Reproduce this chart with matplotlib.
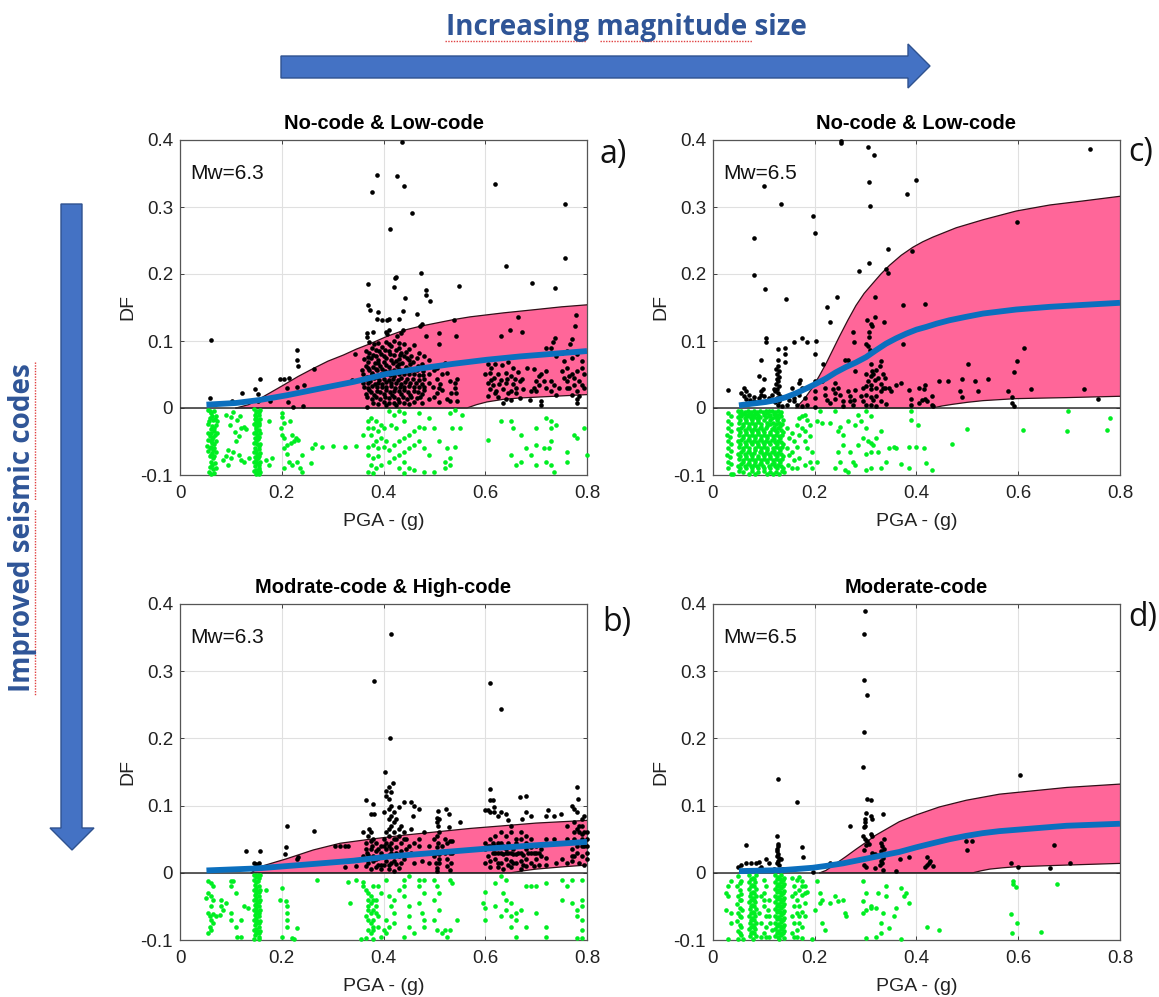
#!/usr/bin/env python3
"""Damage factor vs PGA, four panels, with magnitude / seismic code arrows."""
import numpy as np
import matplotlib
matplotlib.use("Agg")
import matplotlib.pyplot as plt
from matplotlib.patches import Polygon

plt.rcParams["font.family"] = ["Liberation Sans", "DejaVu Sans"]

X_TICKS = [0, 0.2, 0.4, 0.6, 0.8]
Y_TICKS = [-0.1, 0, 0.1, 0.2, 0.3, 0.4]
X_TICK_LABELS = ["0", "0.2", "0.4", "0.6", "0.8"]
Y_TICK_LABELS = ["-0.1", "0", "0.1", "0.2", "0.3", "0.4"]

# ── Fitted curves (x, y) ──────────────────────────────────────────────────────
a_upper = [[.11,0],[.135,.005],[.157,.014],[.18,.024],[.203,.034],[.232,.047],[.262,.059],[.291,.07],[.321,.079],[.347,.088],[.374,.096],[.407,.107],[.44,.116],[.472,.122],[.505,.127],[.538,.132],[.57,.136],[.636,.142],[.70,.147],[.75,.151],[.8,.154]]
a_lower = [[.11,0],[.564,0],[.583,.005],[.603,.009],[.636,.013],[.669,.015],[.735,.0175],[.8,.02]]
a_median = [[.052,.005],[.11,.0075],[.157,.012],[.21,.019],[.275,.029],[.341,.039],[.374,.045],[.407,.051],[.44,.055],[.472,.059],[.538,.066],[.603,.072],[.669,.077],[.735,.081],[.8,.085]]

b_upper = [[.14,0],[.157,.009],[.21,.021],[.262,.034],[.315,.044],[.374,.05],[.44,.056],[.505,.061],[.57,.066],[.636,.07],[.70,.074],[.8,.078]]
b_lower = [[.14,0],[.65,0],[.675,.003],[.70,.0055],[.754,.009],[.8,.0115]]
b_median = [[.052,.0035],[.151,.0065],[.243,.012],[.341,.018],[.407,.024],[.505,.03],[.603,.036],[.70,.041],[.8,.046]]

c_upper = [[.163,0],[.18,.014],[.196,.031],[.209,.048],[.222,.066],[.235,.086],[.248,.106],[.265,.131],[.281,.153],[.297,.171],[.314,.186],[.33,.2],[.347,.213],[.37,.228],[.393,.240],[.412,.248],[.432,.255],[.478,.269],[.531,.281],[.596,.294],[.662,.303],[.727,.309],[.8,.316]]
c_lower = [[.163,0],[.432,0],[.45,.003],[.471,.0055],[.5,.0085],[.531,.011],[.596,.014],[.695,.0155],[.8,.0175]]
c_median = [[.051,.004],[.104,.009],[.125,.012],[.143,.016],[.163,.022],[.183,.029],[.202,.036],[.222,.044],[.241,.053],[.261,.061],[.281,.068],[.301,.076],[.32,.086],[.34,.096],[.36,.104],[.38,.111],[.4,.117],[.419,.121],[.44,.126],[.465,.131],[.497,.136],[.531,.141],[.596,.147],[.662,.151],[.73,.154],[.8,.157]]

d_upper = [[.21,0],[.222,.0035],[.242,.014],[.261,.024],[.281,.035],[.3,.045],[.32,.056],[.343,.066],[.366,.076],[.399,.086],[.445,.098],[.498,.108],[.563,.117],[.629,.122],[.695,.127],[.8,.132]]
d_lower = [[.21,0],[.511,0],[.527,.003],[.544,.0055],[.57,.0075],[.596,.009],[.695,.0115],[.8,.014]]
d_median = [[.051,.0025],[.137,.004],[.196,.0075],[.225,.0105],[.255,.014],[.278,.0175],[.301,.021],[.333,.026],[.366,.031],[.4,.038],[.432,.044],[.465,.05],[.498,.055],[.53,.059],[.563,.062],[.629,.066],[.695,.07],[.8,.073]]

a_black = [[.06,.101],[.437,.397],[.388,.348],[.427,.347],[.44,.331],[.378,.322],[.62,.335],[.757,.305],[.456,.291],[.413,.267],[.757,.224],[.641,.212],[.473,.201],[.425,.195],[.422,.194],[.37,.185],[.42,.18],[.549,.182],[.484,.176],[.484,.168],[.492,.159],[.443,.164],[.691,.187],[.738,.179],
[.37,.153],[.374,.146],[.39,.143],[.387,.133],[.397,.131],[.41,.133],[.407,.131],[.431,.133],[.439,.145],[.465,.141],[.475,.126],[.472,.123],[.539,.131],[.367,.112],[.367,.106],[.38,.114],[.41,.116],[.407,.111],[.404,.113],[.439,.116],[.435,.112],[.426,.108],[.664,.136],[.648,.117],[.63,.107],[.673,.113],[.779,.139],[.777,.123],[.738,.105],[.734,.098],[.77,.103],[.767,.096],[.51,.112],[.543,.108],[.483,.107],[.509,.095],
[.23,.087],[.23,.071],[.231,.063],[.264,.058],[.197,.043],[.205,.043],[.215,.045],[.157,.044],[.122,.023],[.148,.028],[.154,.021],[.059,.015],[.243,.035],[.23,.031],[.211,.03],[.213,.009],[.222,.002],[.241,.003],[.177,.01],[.154,.01],[.102,.011],[.344,.081],[.338,.042],
[.372,.098],[.39,.097],[.405,.098],[.42,.1],[.44,.096],[.46,.094],[.378,.09],[.398,.091],[.415,.092],[.43,.09],[.45,.088],[.366,.085],[.385,.086],[.41,.085],[.425,.086],[.445,.083],[.47,.082],[.38,.079],[.395,.08],[.42,.079],[.44,.078],[.455,.077],[.48,.078],[.362,.073],[.375,.074],[.39,.072],[.405,.074],[.43,.073],[.45,.072],[.465,.074],[.49,.072],[.37,.068],[.383,.067],[.4,.068],[.418,.067],[.437,.067],[.458,.068],[.475,.066],[.365,.062],[.38,.061],[.393,.062],[.41,.061],[.427,.062],[.445,.061],[.468,.062],[.486,.061],[.52,.067],[.358,.057],[.372,.056],[.388,.056],[.403,.055],[.42,.056],[.44,.055],[.455,.056],[.478,.055],[.5,.056],[.36,.05],[.377,.05],[.395,.05],[.412,.049],[.43,.05],[.45,.05],[.47,.049],[.49,.05],[.525,.052],[.545,.044],[.365,.044],[.382,.045],[.4,.044],[.418,.044],[.435,.045],[.458,.044],[.48,.044],[.505,.044],[.37,.038],[.39,.038],[.405,.039],[.425,.038],[.443,.039],[.463,.037],[.49,.038],[.512,.036],[.54,.037],[.362,.032],[.378,.033],[.397,.032],[.415,.033],[.432,.032],[.45,.033],[.47,.032],[.497,.031],[.372,.027],[.387,.026],[.405,.027],[.42,.026],[.44,.027],[.46,.026],[.48,.027],[.515,.027],[.54,.03],[.365,.021],[.382,.02],[.4,.021],[.417,.02],[.435,.021],[.452,.02],[.475,.021],[.505,.022],[.378,.014],[.393,.013],[.41,.015],[.428,.014],[.447,.013],[.465,.015],[.49,.014],[.525,.013],[.542,.022],[.38,.008],[.4,.009],[.42,.008],[.44,.008],[.46,.009],[.51,.009],[.53,.01],[.545,.01],[.368,.002],[.405,.005],[.425,.004],
[.606,.066],[.612,.06],[.62,.065],[.632,.064],[.645,.068],[.655,.06],[.6,.05],[.61,.052],[.625,.05],[.64,.052],[.65,.048],[.665,.053],[.672,.044],[.682,.06],[.605,.038],[.615,.034],[.628,.036],[.64,.037],[.655,.036],[.668,.04],[.61,.028],[.622,.026],[.635,.028],[.65,.025],[.66,.03],[.675,.028],[.605,.018],[.625,.016],[.64,.014],[.65,.012],[.668,.015],[.688,.012],[.635,.008],[.71,.011],[.71,.004],[.695,.058],[.71,.05],[.72,.055],[.715,.04],[.705,.035],[.73,.04],[.72,.03],[.7,.025],[.745,.03],[.74,.02],[.735,.035],[.75,.055],[.755,.07],[.76,.06],[.77,.05],[.775,.045],[.78,.055],[.79,.06],[.785,.04],[.79,.035],[.795,.05],[.76,.04],[.765,.03],[.77,.02],[.78,.025],[.785,.018],[.78,.008],[.78,.014],[.74,.078],[.75,.082],[.72,.09],[.73,.09],[.76,.085],[.78,.08],[.77,.075]]

a_black_dense = [[.381,.095],[.41,.096],[.43,.097],[.372,.082],[.392,.085],[.402,.086],[.435,.082],[.412,.08],[.432,.079],[.37,.076],[.386,.078],[.4,.077],[.447,.075],[.415,.072],[.425,.07],[.37,.06],[.39,.067],[.405,.064],[.43,.066],[.452,.065],[.378,.052],[.385,.058],[.398,.058],[.413,.055],[.43,.058],[.448,.058],[.465,.056],[.368,.047],[.388,.047],[.405,.05],[.42,.048],[.44,.05],[.46,.05],[.478,.049],[.374,.04],[.392,.042],[.41,.042],[.428,.042],[.447,.044],[.47,.042],[.36,.038],[.383,.036],[.398,.036],[.415,.037],[.435,.036],[.452,.038],[.475,.036],[.37,.03],[.387,.031],[.405,.032],[.422,.03],[.44,.031],[.46,.031],[.48,.032],[.375,.024],[.393,.024],[.412,.024],[.43,.025],[.448,.024],[.468,.024],[.367,.016],[.386,.017],[.403,.017],[.42,.016],[.438,.017],[.455,.016],[.472,.016],[.39,.006],[.41,.008],[.43,.009],[.45,.006],[.475,.008],[.5,.016],[.51,.03],[.505,.06],[.515,.05],[.53,.04],[.533,.022],[.618,.045],[.63,.042],[.642,.044],[.658,.043],[.612,.042],[.62,.022],[.645,.022],[.66,.022],[.69,.025],[.695,.03],[.7,.04],[.705,.048],[.73,.026],[.755,.045],[.765,.048],[.775,.035],[.795,.03],[.79,.07],[.76,.03]]

a_green = [[.055,-.003],[.06,-.008],[.066,-.005],[.07,-.012],[.058,-.015],[.064,-.018],[.072,-.02],[.056,-.024],[.063,-.027],[.07,-.026],[.06,-.032],[.067,-.034],[.055,-.037],[.072,-.038],[.059,-.042],[.065,-.044],[.056,-.048],[.062,-.052],[.07,-.05],[.054,-.056],[.06,-.058],[.066,-.06],[.056,-.064],[.063,-.067],[.07,-.066],[.058,-.072],[.065,-.074],[.06,-.08],[.068,-.082],[.058,-.088],[.064,-.091],[.06,-.098],[.066,-.097],[.09,-.01],[.1,-.014],[.105,-.006],[.112,-.018],[.118,-.012],[.098,-.026],[.12,-.03],[.108,-.036],[.125,-.028],[.13,-.032],[.115,-.042],[.11,-.05],[.095,-.062],[.105,-.065],[.09,-.072],[.1,-.075],[.115,-.07],[.085,-.078],[.12,-.078],[.095,-.085],[.125,-.08],[.135,-.074],
[.146,-.002],[.152,-.004],[.157,-.003],[.148,-.01],[.155,-.011],[.147,-.017],[.153,-.018],[.158,-.016],[.146,-.024],[.152,-.025],[.156,-.026],[.149,-.031],[.155,-.033],[.146,-.038],[.152,-.04],[.158,-.038],[.148,-.045],[.154,-.047],[.146,-.052],[.152,-.054],[.157,-.053],[.148,-.059],[.155,-.061],[.146,-.066],[.152,-.068],[.158,-.067],[.148,-.073],[.154,-.075],[.146,-.08],[.152,-.082],[.157,-.081],[.148,-.087],[.155,-.089],[.146,-.094],[.152,-.097],[.157,-.096],
[.175,-.02],[.17,-.078],[.175,-.085],[.18,-.075],[.2,-.008],[.2,-.014],[.198,-.03],[.205,-.022],[.217,-.02],[.2,-.04],[.205,-.045],[.22,-.04],[.228,-.045],[.21,-.055],[.218,-.052],[.225,-.05],[.232,-.048],[.205,-.06],[.21,-.068],[.215,-.08],[.22,-.085],[.205,-.09],[.235,-.09],[.24,-.095],[.24,-.07],[.23,-.08],[.26,-.06],[.265,-.053],[.28,-.058],[.3,-.056],[.325,-.058],[.345,-.056],[.36,-.04],[.258,-.082],
[.37,-.02],[.375,-.015],[.385,-.02],[.395,-.025],[.37,-.03],[.38,-.03],[.39,-.035],[.4,-.03],[.375,-.04],[.385,-.05],[.395,-.045],[.405,-.05],[.37,-.058],[.38,-.055],[.39,-.06],[.4,-.058],[.37,-.07],[.38,-.075],[.39,-.072],[.375,-.085],[.385,-.09],[.37,-.095],[.38,-.097],[.395,-.085],[.41,-.08],[.42,-.075],[.43,-.07],[.44,-.065],[.45,-.06],[.46,-.055],[.41,-.062],[.42,-.055],[.43,-.05],[.44,-.045],[.45,-.04],[.46,-.035],[.47,-.05],[.48,-.06],[.41,-.005],[.42,-.01],[.43,-.005],[.415,-.025],[.425,-.03],[.44,-.02],[.44,-.008],[.47,-.008],[.49,-.015],[.48,-.03],[.47,-.028],[.5,-.03],[.51,-.05],[.525,-.06],[.54,-.058],[.53,-.075],[.49,-.07],[.44,-.08],[.45,-.09],[.43,-.09],[.44,-.097],[.46,-.092],[.52,-.08],[.5,-.095],[.48,-.095],[.52,-.09],[.53,-.085],[.54,-.003],[.555,-.01],[.53,-.007],[.55,-.03],[.535,-.03],
[.605,-.048],[.63,-.02],[.65,-.02],[.655,-.03],[.65,-.07],[.67,-.04],[.67,-.08],[.68,-.06],[.66,-.085],[.69,-.07],[.7,-.03],[.7,-.055],[.72,-.015],[.73,-.02],[.73,-.03],[.74,-.025],[.73,-.05],[.725,-.06],[.715,-.06],[.7,-.085],[.72,-.08],[.73,-.085],[.735,-.095],[.76,-.065],[.76,-.08],[.775,-.04],[.78,-.045],[.795,-.03],[.8,-.07]]

a_green_dense = [[.058,-.004],[.063,-.012],[.068,-.016],[.057,-.02],[.066,-.03],[.06,-.038],[.068,-.04],[.062,-.046],[.06,-.05],[.067,-.054],[.058,-.06],[.064,-.063],[.06,-.07],[.067,-.072],[.062,-.085],[.07,-.09],[.057,-.095],[.149,-.006],[.155,-.006],[.15,-.014],[.15,-.021],[.155,-.022],[.149,-.028],[.15,-.036],[.156,-.043],[.15,-.05],[.155,-.057],[.15,-.064],[.155,-.071],[.149,-.078],[.155,-.085],[.15,-.092],[.156,-.092],[.149,-.098],[.156,-.099]]

b_black = [[.415,.356],[.382,.285],[.61,.283],[.631,.244],[.413,.2],[.402,.15],[.418,.133],[.41,.127],[.405,.122],[.415,.12],[.405,.115],[.41,.11],[.365,.108],[.38,.102],[.61,.124],[.61,.108],[.615,.108],[.668,.113],[.681,.115],[.78,.127],[.783,.11],[.77,.1],[.775,.095],[.78,.09],[.68,.09],[.723,.094],[.72,.085],[.748,.087],[.455,.105],[.44,.105],[.46,.1],[.47,.095],[.458,.085],[.4,.09],[.41,.095],[.415,.1],[.42,.09],[.43,.098],[.375,.088],[.382,.087],[.508,.092],[.522,.095],[.528,.087],[.505,.082],[.528,.068],[.55,.075],[.618,.09],[.617,.098],[.61,.09],[.625,.085],[.63,.09],[.64,.088],[.645,.078],[.65,.07],[.672,.08],[.69,.085],[.6,.093],[.605,.093],[.795,.085],[.79,.08],
[.13,.033],[.157,.032],[.145,.014],[.15,.013],[.155,.015],[.152,.012],[.21,.07],[.209,.039],[.207,.028],[.232,.023],[.23,.02],[.264,.062],[.305,.04],[.325,.04],[.325,.009],[.102,.005],[.155,.007],
[.36,.06],[.37,.055],[.365,.045],[.375,.06],[.4,.05],[.41,.055],[.42,.06],[.43,.055],[.44,.06],[.455,.065],[.47,.05],[.48,.06],[.375,.047],[.385,.045],[.395,.04],[.405,.045],[.415,.045],[.425,.05],[.435,.045],[.445,.05],[.46,.045],[.49,.04],[.5,.05],[.505,.055],[.51,.06],[.507,.07],[.505,.075],[.52,.05],[.365,.035],[.375,.035],[.385,.033],[.395,.03],[.405,.035],[.415,.035],[.425,.038],[.435,.033],[.445,.035],[.455,.03],[.47,.04],[.48,.03],[.505,.038],[.515,.04],[.525,.045],[.53,.048],[.535,.048],[.36,.025],[.37,.027],[.38,.025],[.39,.022],[.4,.025],[.41,.027],[.42,.025],[.43,.025],[.44,.02],[.46,.015],[.475,.017],[.5,.025],[.51,.028],[.52,.03],[.53,.03],[.535,.03],[.37,.015],[.38,.017],[.395,.012],[.405,.017],[.415,.015],[.425,.013],[.435,.015],[.49,.015],[.51,.015],[.525,.02],[.532,.015],[.345,.01],[.365,.01],[.375,.005],[.385,.008],[.395,.005],[.41,.005],[.42,.003],[.43,.007],[.505,.007],[.505,.002],[.525,.01],[.53,.004],[.33,.04],[.315,.04],
[.6,.045],[.61,.05],[.62,.055],[.63,.06],[.64,.055],[.65,.06],[.66,.05],[.67,.05],[.68,.045],[.69,.05],[.6,.035],[.61,.04],[.62,.04],[.63,.045],[.64,.035],[.65,.04],[.66,.04],[.67,.04],[.68,.035],[.69,.038],[.7,.04],[.71,.035],[.605,.025],[.615,.03],[.625,.03],[.635,.028],[.645,.03],[.655,.028],[.665,.03],[.675,.027],[.685,.03],[.695,.03],[.71,.025],[.72,.022],[.6,.015],[.61,.018],[.62,.02],[.63,.015],[.64,.02],[.65,.018],[.66,.015],[.67,.018],[.68,.02],[.69,.015],[.72,.012],[.7,.02],[.705,.012],[.61,.008],[.625,.008],[.635,.005],[.65,.008],[.67,.005],[.68,.01],[.695,.01],[.74,.015],[.75,.02],[.76,.015],[.77,.018],[.775,.05],[.78,.045],[.79,.05],[.8,.06],[.775,.06],[.78,.065],[.785,.07],[.79,.07],[.795,.04],[.8,.04],[.77,.035],[.78,.03],[.79,.025],[.8,.03],[.785,.015],[.795,.012],[.8,.02],[.79,.058],[.76,.07],[.735,.085],[.72,.05],[.735,.05],[.76,.05]]

b_black_dense = [[.368,.03],[.378,.04],[.37,.02],[.385,.02],[.39,.035],[.372,.065],[.38,.05],[.4,.04],[.41,.04],[.42,.05],[.41,.065],[.415,.07],[.42,.075],[.41,.08],[.405,.06],[.43,.065],[.425,.08],[.415,.085],[.435,.07],[.44,.05],[.45,.04],[.415,.03],[.425,.03],[.42,.018],[.41,.012],[.4,.012],[.39,.012],[.505,.03],[.51,.02],[.503,.015],[.507,.045],[.51,.08],[.615,.045],[.625,.045],[.635,.04],[.645,.045],[.655,.035],[.62,.03],[.63,.03],[.64,.03],[.65,.03],[.66,.028],[.605,.04],[.625,.015],[.645,.012],[.655,.015],[.67,.03],[.675,.012],[.66,.045],[.67,.06],[.68,.055],[.69,.03],[.705,.03],[.7,.03],[.775,.075],[.785,.06],[.795,.06],[.78,.04],[.79,.04],[.8,.05],[.775,.025],[.77,.025]]

b_green = [[.055,-.012],[.06,-.015],[.065,-.02],[.056,-.03],[.06,-.035],[.052,-.038],[.065,-.04],[.06,-.05],[.055,-.06],[.058,-.065],[.06,-.07],[.065,-.062],[.058,-.08],[.055,-.09],[.06,-.085],[.065,-.075],[.07,-.065],[.078,-.063],[.08,-.05],[.085,-.055],[.08,-.04],[.09,-.045],[.1,-.02],[.105,-.012],[.1,-.012],[.11,-.03],[.1,-.06],[.1,-.07],[.11,-.08],[.12,-.07],[.12,-.095],[.112,-.095],[.125,-.05],
[.133,-.052],[.146,-.003],[.152,-.004],[.157,-.003],[.146,-.01],[.154,-.012],[.148,-.018],[.155,-.02],[.146,-.026],[.152,-.027],[.157,-.026],[.148,-.033],[.155,-.035],[.146,-.04],[.152,-.042],[.157,-.041],[.148,-.048],[.155,-.05],[.146,-.055],[.152,-.057],[.157,-.056],[.148,-.063],[.155,-.065],[.146,-.07],[.152,-.072],[.157,-.071],[.148,-.078],[.155,-.08],[.146,-.085],[.152,-.087],[.157,-.086],[.148,-.093],[.155,-.095],[.146,-.098],[.155,-.098],[.17,-.026],
[.2,-.023],[.197,-.04],[.208,-.042],[.21,-.05],[.21,-.06],[.21,-.07],[.21,-.08],[.23,-.082],[.2,-.096],[.22,-.097],[.225,-.098],[.27,-.011],[.33,-.014],[.335,-.045],[.345,-.01],[.36,-.014],[.355,-.098],
[.36,-.02],[.365,-.025],[.37,-.03],[.38,-.02],[.39,-.02],[.375,-.035],[.385,-.04],[.395,-.03],[.37,-.055],[.375,-.06],[.38,-.055],[.385,-.05],[.365,-.065],[.37,-.07],[.375,-.075],[.38,-.07],[.39,-.065],[.37,-.085],[.375,-.09],[.38,-.085],[.39,-.08],[.395,-.095],[.365,-.097],[.38,-.098],[.405,-.01],[.41,-.035],[.42,-.04],[.43,-.025],[.415,-.05],[.42,-.06],[.405,-.07],[.41,-.08],[.4,-.085],[.42,-.075],[.405,-.09],[.44,-.01],[.44,-.02],[.45,-.005],[.44,-.035],[.45,-.05],[.45,-.065],[.45,-.08],[.44,-.095],[.47,-.01],[.47,-.02],[.48,-.01],[.48,-.03],[.47,-.045],[.475,-.06],[.48,-.07],[.48,-.08],[.46,-.09],[.5,-.01],[.505,-.02],[.51,-.03],[.5,-.04],[.51,-.055],[.5,-.07],[.505,-.085],[.515,-.09],[.52,-.085],[.525,-.095],[.53,-.085],[.535,-.015],[.53,-.01],[.545,-.07],
[.595,-.045],[.6,-.052],[.6,-.028],[.6,-.07],[.62,-.015],[.63,-.005],[.64,-.01],[.635,-.03],[.64,-.04],[.65,-.045],[.64,-.055],[.65,-.065],[.66,-.06],[.67,-.055],[.62,-.05],[.63,-.065],[.66,-.07],[.65,-.08],[.68,-.08],[.66,-.095],[.68,-.02],[.69,-.02],[.7,-.02],[.72,-.015],[.7,-.06],[.72,-.08],[.75,-.01],[.76,-.02],[.77,-.01],[.79,-.01],[.79,-.04],[.75,-.04],[.77,-.045],[.78,-.055],[.79,-.05],[.78,-.065],[.79,-.07],[.79,-.085],[.72,-.095],[.78,-.097],[.79,-.097]]

b_green_dense = [[.149,-.006],[.155,-.007],[.15,-.014],[.15,-.022],[.155,-.028],[.15,-.03],[.15,-.038],[.155,-.044],[.15,-.046],[.15,-.053],[.155,-.06],[.15,-.06],[.15,-.068],[.155,-.075],[.15,-.075],[.15,-.083],[.155,-.09],[.15,-.09],[.375,-.045],[.38,-.04],[.37,-.04],[.385,-.06],[.38,-.08],[.37,-.05]]

c_black = [[.251,.395],[.252,.398],[.305,.39],[.316,.377],[.741,.387],[.307,.337],[.399,.341],[.382,.32],[.101,.332],[.133,.305],[.309,.302],[.197,.287],[.201,.261],[.081,.254],[.597,.277],[.343,.237],[.391,.235],[.307,.217],[.286,.205],[.34,.208],[.343,.202],[.08,.198],[.102,.177],[.144,.162],[.244,.166],[.318,.166],[.224,.151],[.23,.128],[.373,.154],[.416,.155],[.303,.131],[.319,.136],[.337,.129],[.31,.126],[.313,.123],[.276,.113],[.278,.099],[.306,.114],[.307,.106],[.304,.092],[.301,.096],[.308,.086],[.373,.096],[.104,.105],[.104,.098],[.16,.099],[.175,.105],[.184,.098],[.202,.1],[.127,.088],[.141,.09],[.142,.081],[.2,.08],[.095,.071],[.127,.071],[.142,.068],[.611,.09],[.597,.07],[.502,.065],[.592,.054],
[.127,.062],[.124,.058],[.129,.055],[.126,.05],[.13,.047],[.125,.043],[.128,.04],[.124,.036],[.129,.033],[.126,.029],[.122,.025],[.128,.022],[.132,.018],[.125,.015],[.13,.011],[.122,.009],[.128,.005],[.135,.003],[.09,.048],[.1,.043],[.171,.042],[.17,.038],[.2,.04],[.03,.027],[.06,.03],[.065,.025],[.055,.022],[.07,.02],[.06,.018],[.065,.014],[.072,.012],[.08,.01],[.09,.015],[.095,.025],[.098,.028],[.095,.02],[.1,.018],[.08,.017],[.115,.02],[.12,.028],[.155,.03],[.17,.025],[.175,.03],[.17,.02],[.16,.015],[.18,.015],[.16,.01],[.145,.005],[.15,.012],[.165,.005],[.175,.003],[.2,.002],[.185,.005],[.105,.01],[.11,.015],
[.216,.065],[.26,.071],[.265,.071],[.33,.07],[.329,.062],[.31,.066],[.312,.055],[.31,.048],[.315,.05],[.32,.056],[.325,.045],[.335,.051],[.338,.045],[.28,.055],[.3,.05],[.305,.04],[.31,.035],[.318,.042],[.33,.036],[.335,.03],[.3,.033],[.295,.03],[.31,.028],[.32,.03],[.33,.025],[.338,.03],[.36,.035],[.37,.037],[.345,.03],[.35,.025],[.215,.04],[.235,.028],[.245,.03],[.24,.038],[.22,.03],[.22,.02],[.225,.012],[.23,.008],[.24,.013],[.25,.02],[.24,.022],[.255,.01],[.255,.003],[.27,.018],[.278,.012],[.28,.027],[.265,.025],[.27,.01],[.275,.004],[.29,.018],[.3,.02],[.31,.017],[.315,.012],[.32,.018],[.295,.01],[.3,.004],[.31,.005],[.32,.003],[.33,.01],[.34,.006],[.2,.015],[.2,.025],
[.385,.027],[.39,.014],[.39,.004],[.405,.03],[.416,.035],[.415,.028],[.417,.014],[.41,.012],[.405,.008],[.42,.01],[.43,.018],[.43,.005],[.432,.003],[.445,.04],[.462,.04],[.49,.043],[.515,.04],[.54,.044],[.485,.026],[.52,.026],[.49,.017],[.579,.026],[.587,.017],[.588,.008],[.592,.003],[.625,.028],[.73,.029],[.757,.014]]

c_green = [[.03,-.008],[.035,-.012],[.03,-.02],[.036,-.024],[.03,-.03],[.035,-.034],[.028,-.04],[.034,-.043],[.03,-.05],[.036,-.054],[.03,-.06],[.035,-.064],[.028,-.07],[.034,-.073],[.03,-.08],[.036,-.083],[.03,-.09],[.035,-.098],
[.05,-.005],[.056,-.004],[.062,-.006],[.068,-.004],[.074,-.006],[.08,-.004],[.086,-.006],[.092,-.004],[.098,-.006],[.104,-.004],[.11,-.005],[.116,-.004],[.122,-.006],[.128,-.004],[.134,-.006],[.05,-.014],[.056,-.012],[.062,-.015],[.068,-.012],[.074,-.015],[.08,-.013],[.086,-.015],[.092,-.013],[.104,-.014],[.11,-.012],[.116,-.015],[.122,-.013],[.128,-.015],[.134,-.012],[.052,-.022],[.058,-.024],[.064,-.021],[.07,-.024],[.076,-.022],[.082,-.024],[.088,-.021],[.094,-.024],[.106,-.022],[.112,-.024],[.118,-.022],[.124,-.024],[.13,-.022],[.136,-.024],[.05,-.032],[.056,-.03],[.062,-.033],[.068,-.03],[.074,-.033],[.08,-.031],[.086,-.033],[.092,-.03],[.098,-.033],[.104,-.03],[.116,-.031],[.122,-.033],[.128,-.03],[.134,-.033],[.052,-.04],[.058,-.042],[.064,-.039],[.07,-.042],[.076,-.04],[.082,-.042],[.088,-.039],[.094,-.042],[.1,-.04],[.106,-.042],[.112,-.039],[.118,-.042],[.124,-.04],[.13,-.042],[.136,-.04],[.05,-.05],[.056,-.048],[.062,-.051],[.068,-.048],[.074,-.051],[.08,-.049],[.086,-.051],[.092,-.048],[.098,-.051],[.104,-.049],[.11,-.051],[.116,-.048],[.122,-.051],[.128,-.049],[.134,-.051],[.052,-.058],[.058,-.06],[.064,-.057],[.07,-.06],[.082,-.06],[.088,-.057],[.094,-.06],[.1,-.058],[.106,-.06],[.118,-.06],[.124,-.058],[.13,-.06],[.136,-.058],[.05,-.068],[.056,-.066],[.062,-.069],[.068,-.066],[.074,-.069],[.08,-.067],[.092,-.066],[.098,-.069],[.104,-.067],[.11,-.069],[.116,-.066],[.122,-.069],[.128,-.067],[.134,-.069],[.052,-.076],[.058,-.078],[.064,-.075],[.07,-.078],[.076,-.076],[.082,-.078],[.088,-.075],[.094,-.078],[.1,-.076],[.106,-.078],[.112,-.075],[.118,-.078],[.124,-.076],[.13,-.078],[.136,-.076],[.05,-.086],[.056,-.084],[.062,-.087],[.068,-.084],[.074,-.087],[.08,-.085],[.086,-.087],[.092,-.084],[.098,-.087],[.11,-.087],[.116,-.084],[.122,-.087],[.128,-.085],[.134,-.087],[.052,-.094],[.058,-.096],[.07,-.098],[.076,-.094],[.082,-.098],[.088,-.095],[.1,-.094],[.106,-.098],[.112,-.095],[.118,-.098],[.124,-.095],[.13,-.098],[.136,-.094],[.04,-.098],
[.145,-.03],[.15,-.045],[.145,-.06],[.15,-.07],[.148,-.085],[.14,-.096],[.155,-.038],[.16,-.05],[.155,-.065],[.16,-.078],[.155,-.09],[.165,-.025],[.17,-.04],[.165,-.058],[.17,-.075],[.165,-.09],[.175,-.012],[.18,-.01],[.175,-.03],[.18,-.035],[.17,-.015],[.185,-.018],[.19,-.025],[.18,-.05],[.19,-.042],[.185,-.06],[.195,-.065],[.19,-.08],[.18,-.085],[.195,-.09],[.205,-.08],
[.21,-.005],[.215,-.022],[.23,-.023],[.205,-.02],[.24,-.004],[.25,-.028],[.245,-.035],[.255,-.04],[.255,-.055],[.245,-.065],[.25,-.08],[.24,-.09],[.26,-.092],[.265,-.095],[.265,-.02],[.28,-.025],[.29,-.02],[.285,-.01],[.3,-.005],[.31,-.012],[.3,-.03],[.295,-.045],[.305,-.05],[.31,-.052],[.315,-.055],[.32,-.045],[.33,-.035],[.27,-.065],[.285,-.055],[.3,-.068],[.31,-.065],[.325,-.065],[.345,-.06],[.355,-.058],[.36,-.06],[.33,-.09],[.31,-.09],[.3,-.093],[.28,-.085],[.275,-.08],[.34,-.08],[.37,-.083],[.385,-.09],[.385,-.058],[.4,-.058],[.39,-.005],[.39,-.018],[.403,-.025],[.415,-.06],[.418,-.082],[.43,-.092],[.47,-.054],[.5,-.032],[.61,-.033],[.695,-.034],[.698,-.005],[.781,-.015],[.775,-.033]]

c_green_dense = [[.053,-.009],[.059,-.009],[.065,-.01],[.071,-.009],[.077,-.01],[.083,-.009],[.089,-.01],[.101,-.01],[.107,-.008],[.113,-.01],[.119,-.009],[.125,-.01],[.131,-.009],[.053,-.018],[.065,-.018],[.077,-.018],[.089,-.018],[.101,-.018],[.113,-.018],[.125,-.018],[.137,-.018],[.059,-.027],[.071,-.028],[.083,-.027],[.095,-.028],[.107,-.027],[.119,-.028],[.131,-.027],[.053,-.036],[.065,-.036],[.077,-.036],[.089,-.036],[.101,-.036],[.113,-.036],[.125,-.036],[.137,-.036],[.059,-.045],[.071,-.046],[.083,-.045],[.095,-.046],[.107,-.045],[.119,-.046],[.131,-.045],[.053,-.054],[.065,-.054],[.077,-.054],[.089,-.054],[.101,-.054],[.113,-.054],[.125,-.054],[.137,-.054],[.059,-.063],[.071,-.064],[.083,-.063],[.095,-.064],[.107,-.063],[.119,-.064],[.131,-.063],[.053,-.072],[.065,-.072],[.077,-.072],[.089,-.072],[.101,-.072],[.113,-.072],[.125,-.072],[.137,-.072],[.059,-.081],[.071,-.082],[.083,-.081],[.095,-.082],[.107,-.081],[.119,-.082],[.131,-.081],[.053,-.09],[.065,-.09],[.077,-.09],[.089,-.09],[.101,-.09],[.113,-.09],[.125,-.09],[.137,-.09]]

d_black = [[.299,.389],[.297,.355],[.297,.287],[.302,.265],[.296,.209],[.295,.157],[.303,.11],[.311,.108],[.301,.089],[.31,.085],[.313,.08],[.334,.088],[.298,.08],[.299,.075],[.298,.07],[.296,.068],[.27,.069],[.31,.058],[.312,.055],[.295,.055],[.298,.05],[.303,.047],[.336,.05],[.3,.042],[.307,.043],[.336,.035],[.333,.04],[.33,.045],[.33,.033],[.33,.028],[.297,.034],[.313,.03],[.318,.028],[.335,.022],[.33,.018],[.333,.014],[.328,.012],[.297,.012],[.3,.009],[.318,.007],[.335,.004],[.36,.002],[.368,.021],[.386,.024],[.42,.023],[.432,.01],[.42,.012],[.417,.009],[.425,.015],[.427,.018],[.498,.047],[.5,.034],[.51,.048],[.585,.014],[.6,.008],[.662,.007],[.671,.041],[.701,.014],[.604,.146],
[.128,.139],[.165,.105],[.126,.055],[.064,.042],[.127,.043],[.128,.04],[.126,.036],[.126,.032],[.128,.028],[.125,.025],[.13,.022],[.127,.018],[.125,.015],[.133,.02],[.13,.012],[.175,.038],[.177,.023],[.085,.015],[.075,.015],[.09,.016],[.105,.02],[.05,.008],[.055,.011],[.065,.014],[.09,.006],[.095,.008],[.11,.015],[.135,.005],[.14,.005],[.197,.001],[.23,.015],[.12,.005]]

d_green = [[.03,-.02],[.035,-.012],[.025,-.03],[.03,-.035],[.025,-.055],[.035,-.06],[.035,-.075],[.03,-.098],[.05,-.005],[.056,-.012],[.048,-.02],[.054,-.026],[.05,-.034],[.056,-.04],[.048,-.046],[.054,-.052],[.05,-.06],[.056,-.066],[.048,-.072],[.054,-.078],[.05,-.086],[.056,-.092],[.05,-.098],[.058,-.098],[.055,-.032],[.057,-.056],[.056,-.08],
[.07,-.004],[.078,-.008],[.084,-.004],[.07,-.014],[.076,-.018],[.082,-.014],[.07,-.024],[.078,-.028],[.084,-.024],[.072,-.034],[.078,-.038],[.084,-.034],[.07,-.044],[.076,-.048],[.082,-.044],[.072,-.054],[.078,-.058],[.084,-.054],[.07,-.064],[.076,-.068],[.082,-.064],[.072,-.074],[.078,-.078],[.084,-.074],[.07,-.084],[.076,-.088],[.082,-.084],[.072,-.094],[.078,-.098],[.084,-.094],
[.09,-.06],[.1,-.01],[.105,-.02],[.095,-.035],[.1,-.05],[.105,-.065],[.095,-.075],[.1,-.09],[.11,-.04],[.108,-.055],[.112,-.075],[.115,-.085],[.11,-.095],[.095,-.095],[.105,-.095],[.1,-.03],
[.122,-.004],[.128,-.006],[.134,-.004],[.14,-.007],[.122,-.014],[.128,-.016],[.134,-.013],[.14,-.017],[.122,-.024],[.128,-.026],[.134,-.023],[.14,-.027],[.122,-.034],[.128,-.036],[.134,-.033],[.14,-.037],[.122,-.044],[.128,-.046],[.134,-.043],[.14,-.047],[.122,-.054],[.128,-.056],[.134,-.053],[.14,-.057],[.122,-.064],[.128,-.066],[.134,-.063],[.14,-.067],[.122,-.074],[.128,-.076],[.134,-.073],[.14,-.077],[.122,-.084],[.128,-.086],[.134,-.083],[.14,-.087],[.122,-.094],[.128,-.096],[.134,-.093],[.14,-.097],
[.155,-.008],[.17,-.006],[.175,-.012],[.16,-.02],[.17,-.025],[.155,-.035],[.165,-.04],[.175,-.033],[.16,-.05],[.17,-.05],[.18,-.045],[.155,-.065],[.165,-.06],[.175,-.058],[.18,-.065],[.16,-.075],[.17,-.075],[.165,-.085],[.155,-.09],[.165,-.095],[.175,-.097],[.18,-.02],[.185,-.028],[.2,-.055],[.195,-.098],
[.205,-.012],[.21,-.03],[.21,-.045],[.215,-.04],[.23,-.045],[.24,-.035],[.245,-.042],[.255,-.04],[.215,-.075],[.22,-.085],[.26,-.06],[.262,-.065],[.295,-.012],[.3,-.03],[.295,-.042],[.31,-.05],[.3,-.055],[.295,-.06],[.31,-.052],[.32,-.052],[.34,-.035],[.36,-.052],[.34,-.02],[.375,-.035],[.385,-.045],[.33,-.075],[.345,-.082],[.33,-.09],[.32,-.095],[.3,-.097],[.355,-.065],[.335,-.06],[.325,-.03],[.37,-.022],[.38,-.03],[.37,-.098],[.42,-.08],[.445,-.085],[.589,-.012],[.59,-.016],[.596,-.021],[.585,-.062],[.598,-.075],[.588,-.09],[.645,-.088],[.677,-.016]]

d_green_dense = [[.075,-.009],[.081,-.009],[.074,-.02],[.08,-.02],[.074,-.03],[.08,-.03],[.075,-.04],[.081,-.04],[.074,-.05],[.08,-.05],[.074,-.06],[.08,-.06],[.075,-.07],[.081,-.07],[.074,-.08],[.08,-.08],[.074,-.09],[.08,-.09],[.053,-.015],[.053,-.04],[.053,-.065],[.053,-.09],[.125,-.009],[.131,-.009],[.137,-.01],[.125,-.019],[.131,-.019],[.137,-.02],[.125,-.029],[.131,-.029],[.137,-.03],[.125,-.039],[.131,-.039],[.137,-.04],[.125,-.049],[.131,-.049],[.137,-.05],[.125,-.059],[.131,-.059],[.137,-.06],[.125,-.069],[.131,-.069],[.137,-.07],[.125,-.079],[.131,-.079],[.137,-.08],[.125,-.089],[.131,-.089],[.137,-.09],[.13,-.098],[.165,-.01],[.162,-.03],[.17,-.065],[.175,-.08],[.16,-.095],[.1,-.04],[.105,-.08],[.11,-.065],[.175,-.02],[.18,-.03]]

titles = ["No-code & Low-code", "Modrate-code & High-code", "No-code & Low-code", "Moderate-code"]
mw_labels = ["Mw=6.3", "Mw=6.3", "Mw=6.5", "Mw=6.5"]
panel_labels = ["a)", "b)", "c)", "d)"]

W, H = 1159, 997
# left, top, right, bottom of each axes box in pixels
boxes = [(180, 140, 587, 475), (180, 604, 587, 940), (713, 140, 1120, 475), (713, 604, 1120, 940)]
label_xy = [(613, 155), (617, 622), (1141, 152), (1143, 617)]


def draw_panel(fig, box, upper, lower, median, black, green, title, mw):
    l, t, r, b = box
    ax = fig.add_axes([l / W, 1 - b / H, (r - l) / W, (b - t) / H])
    upper, lower, median = np.array(upper), np.array(lower), np.array(median)
    black, green = np.array(black), np.array(green)

    outline = np.vstack([upper, lower[::-1]])
    ax.fill(outline[:, 0], outline[:, 1], color="#ff6699", lw=0, zorder=2)
    ax.plot(upper[:, 0], upper[:, 1], color="#301018", lw=0.9, zorder=3)
    ax.plot(lower[:, 0], lower[:, 1], color="#301018", lw=0.9, zorder=3)
    ax.axhline(0, color="#303030", lw=1.1, zorder=3)
    ax.scatter(black[:, 0], black[:, 1], s=11, color="black", lw=0, zorder=4, clip_on=False)
    ax.scatter(green[:, 0], green[:, 1], s=11, color="#00ee22", lw=0, zorder=4, clip_on=False)
    ax.plot(median[:, 0], median[:, 1], color="#0b6fbe", lw=4.2, zorder=5, solid_capstyle="butt")

    ax.set_xlim(0, 0.8)
    ax.set_ylim(-0.1, 0.4)
    ax.set_xticks(X_TICKS)
    ax.set_xticklabels(X_TICK_LABELS)
    ax.set_yticks(Y_TICKS)
    ax.set_yticklabels(Y_TICK_LABELS)
    ax.tick_params(direction="in", top=True, right=True, length=3, width=0.7,
                   color="#404040", labelcolor="#222222", labelsize=13.5, pad=5)
    ax.tick_params(axis="x", pad=7)
    ax.grid(True, color="#e0e0e0", lw=0.8, zorder=0)
    ax.set_axisbelow(True)
    for s in ax.spines.values():
        s.set_color("#555555")
        s.set_linewidth(0.9)
    ax.set_xlabel("PGA - (g)", fontsize=14, color="#222222", labelpad=8)
    ax.set_ylabel("DF", fontsize=14, color="#222222", labelpad=3)
    ax.set_title(title, fontsize=14.5, fontweight="bold", pad=8)
    ax.text(0.02, 0.35, mw, fontsize=15, va="center", color="#111111")
    return ax


fig = plt.figure(figsize=(W / 100, H / 100), dpi=100)

panels = [
    (a_upper, a_lower, a_median, a_black + a_black_dense, a_green + a_green_dense),
    (b_upper, b_lower, b_median, b_black + b_black_dense, b_green + b_green_dense),
    (c_upper, c_lower, c_median, c_black, c_green + c_green_dense),
    (d_upper, d_lower, d_median, d_black, d_green + d_green_dense),
]
for box, p, title, mw in zip(boxes, panels, titles, mw_labels):
    draw_panel(fig, box, *p, title, mw)

# overlay in pixel coordinates for the arrows and captions
ov = fig.add_axes([0, 0, 1, 1], facecolor="none")
ov.set_xlim(0, W)
ov.set_ylim(H, 0)
ov.axis("off")

blue = "#4472c4"
edge = "#2f528f"
ov.add_patch(Polygon([(281, 56), (908, 56), (908, 44), (930, 66), (908, 88), (908, 78), (281, 78)],
                     facecolor=blue, edgecolor=edge, lw=1))
ov.add_patch(Polygon([(61, 204), (82, 204), (82, 828), (94, 828), (72, 850), (50, 828), (61, 828)],
                     facecolor=blue, edgecolor=edge, lw=1))

ov.text(626, 28, "Increasing magnitude size", fontsize=20, fontweight="bold", color="#2f5597",
        family="Open Sans", ha="center", va="center")
ov.text(23, 528, "Improved seismic codes", fontsize=20, fontweight="bold", color="#2f5597",
        family="Open Sans", ha="center", va="center", rotation=90)
# spell-check underlines
ov.plot([445, 586], [41, 41], color="#e04040", lw=1, ls=(0, (1, 1)))
ov.plot([600, 752], [41, 41], color="#e04040", lw=1, ls=(0, (1, 1)))
ov.plot([35, 35], [362, 500], color="#e04040", lw=1, ls=(0, (1, 1)))
ov.plot([35, 35], [510, 695], color="#e04040", lw=1, ls=(0, (1, 1)))

for (x, y), lab in zip(label_xy, panel_labels):
    ov.text(x, y, lab, fontsize=23, family="Open Sans", ha="center", va="center", color="#111111")

fig.savefig("out.png", dpi=100)
